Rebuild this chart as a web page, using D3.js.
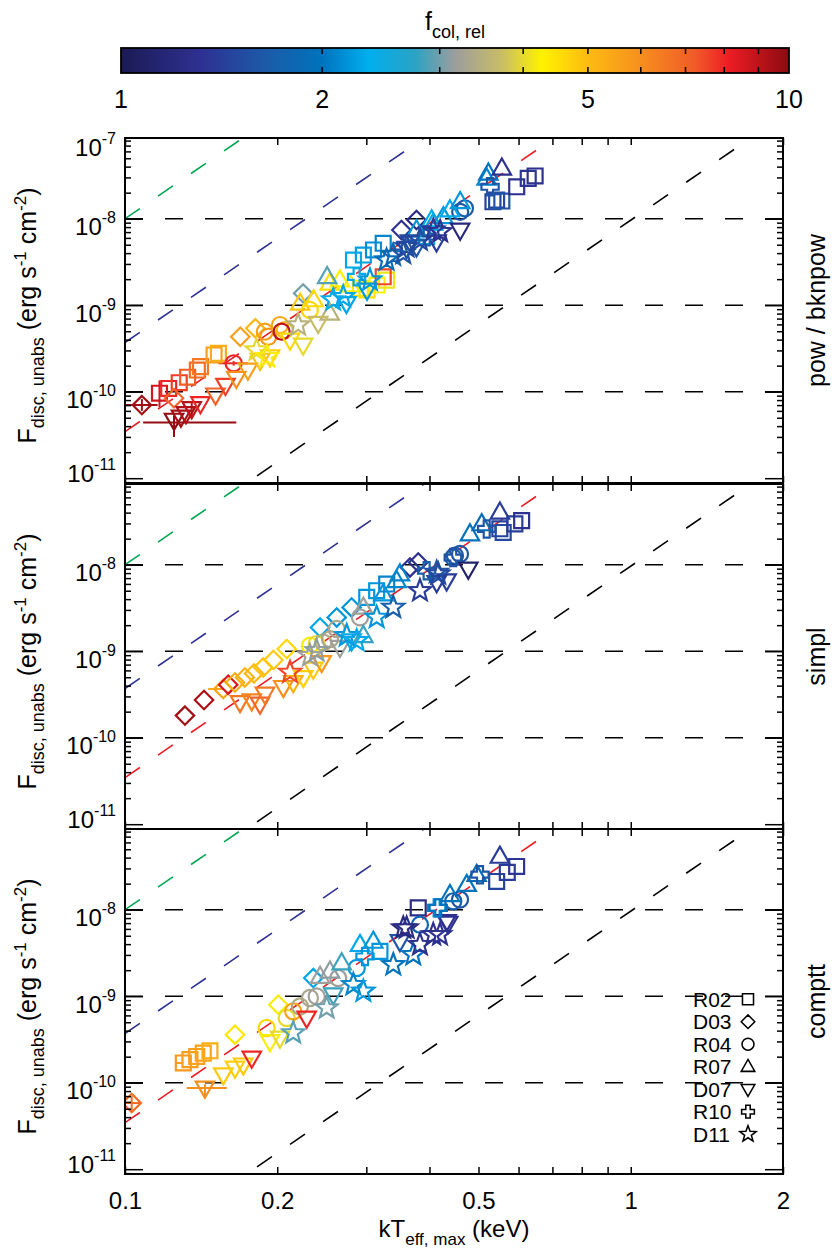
<!DOCTYPE html>
<html>
<head>
<meta charset="utf-8">
<script src="https://cdn.jsdelivr.net/npm/d3@7"></script>
<style>
  body { margin: 0; background: #fff; }
  text { font-family: "Liberation Sans", Arial, Helvetica, sans-serif; fill: #000; }
</style>
</head>
<body>
<script>
// ---- data: [kT_eff,max (keV), F_disc,unabs (erg/s/cm2), f_col,rel] ----
const sources = ["R02", "D03", "R04", "R07", "D07", "R10", "D11"];
const panelNames = ["pow / bknpow", "simpl", "comptt"];

const powR02 = [[0.117, 9.6e-11, 8.6], [0.122, 1.09e-10, 8.0], [0.128, 1.27e-10, 7.6], [0.133, 1.47e-10, 7.2], [0.139, 1.78e-10, 6.8], [0.141, 1.95e-10, 6.5], [0.150, 2.66e-10, 5.6], [0.153, 2.78e-10, 5.3],
  [0.292, 1.57e-9, 4.4], [0.301, 1.50e-9, 4.5], [0.315, 1.71e-9, 4.3], [0.329, 1.95e-9, 4.1], [0.324, 2.13e-9, 7.5],
  [0.283, 3.33e-9, 2.3], [0.296, 3.80e-9, 2.25], [0.310, 4.35e-9, 2.15], [0.324, 5.20e-9, 2.1], [0.395, 6.20e-9, 2.3],
  [0.534, 1.57e-8, 1.45], [0.543, 1.64e-8, 1.5], [0.556, 1.60e-8, 1.6], [0.595, 2.34e-8, 1.3], [0.627, 2.93e-8, 1.35], [0.647, 3.12e-8, 1.3]];
const powD03 = [[0.108, 7.0e-11, 9.5], [0.125, 8.4e-11, 7.0], [0.169, 4.32e-10, 5.6], [0.181, 5.41e-10, 5.1], [0.225, 1.37e-9, 3.0], [0.352, 7.4e-9, 1.3], [0.377, 9.66e-9, 1.25]];
const powR04 = [[0.164, 2.13e-10, 8.0], [0.189, 4.94e-10, 5.6], [0.192, 4.32e-10, 5.8], [0.2025, 5.9e-10, 5.4], [0.207, 5.16e-10, 5.0], [0.204, 4.94e-10, 9.0], [0.232, 8.8e-10, 4.6], [0.460, 1.20e-8, 1.6], [0.470, 1.32e-8, 1.7]];
const powR07 = [[0.222, 1.05e-9, 4.8], [0.236, 1.15e-9, 4.6], [0.254, 1.79e-9, 4.5], [0.266, 1.95e-9, 4.3], [0.279, 1.71e-9, 4.2], [0.251, 2.13e-9, 2.9], [0.254, 8.05e-10, 3.5],
  [0.377, 7.4e-9, 2.2], [0.404, 9.66e-9, 2.4], [0.407, 8.85e-9, 2.3], [0.426, 1.05e-8, 2.2], [0.439, 1.26e-8, 2.3], [0.460, 1.57e-8, 2.2],
  [0.519, 2.93e-8, 2.1], [0.523, 3.35e-8, 2.0], [0.556, 3.83e-8, 1.3]];
const powD07 = [[0.125, 4.7e-11, 9.8], [0.129, 5.1e-11, 9.5], [0.132, 5.6e-11, 9.3], [0.1355, 6.4e-11, 9.0], [0.141, 7.3e-11, 8.0], [0.151, 9.2e-11, 7.0], [0.158, 1.19e-10, 7.6], [0.166, 1.43e-10, 6.0],
  [0.175, 1.78e-10, 5.6], [0.185, 2.32e-10, 4.9], [0.1935, 2.54e-10, 4.7], [0.212, 3.96e-10, 4.6], [0.225, 3.47e-10, 4.0], [0.241, 6.18e-10, 3.7], [0.274, 1.05e-9, 2.3], [0.301, 1.5e-9, 2.2],
  [0.3605, 4.55e-9, 1.5], [0.366, 5.42e-9, 1.5], [0.377, 4.74e-9, 1.6], [0.413, 5.42e-9, 1.4], [0.460, 7.4e-9, 1.2]];
const powR10 = [[0.287, 2.13e-9, 2.3], [0.395, 6.2e-9, 1.7], [0.527, 2.34e-8, 1.6]];
const powD11 = [[0.182, 3.03e-10, 4.0], [0.191, 2.54e-10, 4.2], [0.220, 5.9e-10, 3.5], [0.258, 1.15e-9, 2.4], [0.270, 1.25e-9, 2.3], [0.305, 1.95e-9, 2.2], [0.329, 3.33e-9, 1.9],
  [0.339, 3.8e-9, 1.8], [0.355, 3.98e-9, 1.6], [0.3605, 4.74e-9, 1.5], [0.383, 5.67e-9, 1.5], [0.407, 7.4e-9, 1.4], [0.420, 7.08e-9, 1.3]];
// error bars: [T, Tlo, Thi, F, Flo, Fhi, fcol]
const powErr = [[0.108, 0.1, 0.116, 7.0e-11, 6.0e-11, 8.2e-11, 9.5], [0.125, 0.1086, 0.166, 4.4e-11, 3.0e-11, 5.3e-11, 9.8],
  [0.117, 0.117, 0.117, 9.6e-11, 6.6e-11, 1.35e-10, 8.6], [0.164, 0.153, 0.175, 2.13e-10, 2.0e-10, 2.26e-10, 8.0], [0.1355, 0.1355, 0.1355, 6.4e-11, 5.0e-11, 7.6e-11, 9.0]];

const simplR02 = [[0.3006, 4.19e-9, 2.2], [0.3145, 5.0e-9, 2.2], [0.3292, 5.98e-9, 2.1], [0.551, 2.6e-8, 1.45], [0.5595, 2.36e-8, 1.5], [0.590, 2.96e-8, 1.4], [0.6085, 3.23e-8, 1.3]];
const simplD03 = [[0.1314, 1.80e-10, 9.5], [0.1433, 2.73e-10, 9.3], [0.1564, 3.66e-10, 5.5], [0.160, 4.1e-10, 8.5], [0.165, 4.35e-10, 5.3], [0.1726, 4.98e-10, 5.2], [0.1799, 5.54e-10, 5.0],
  [0.1876, 6.5e-10, 4.9], [0.1965, 7.91e-10, 4.8], [0.2088, 1.06e-9, 4.6], [0.243, 1.88e-9, 2.3], [0.2622, 2.46e-9, 2.2], [0.2806, 3.21e-9, 2.2], [0.366, 9.31e-9, 1.3], [0.380, 1.06e-8, 1.3]];
const simplR04 = [[0.2321, 1.16e-9, 4.2], [0.2393, 1.21e-9, 4.0], [0.2466, 1.26e-9, 3.4], [0.2543, 1.38e-9, 3.3], [0.2622, 1.81e-9, 3.3], [0.2915, 2.46e-9, 3.2], [0.4457, 1.21e-8, 1.7], [0.4492, 1.27e-8, 1.6], [0.4596, 1.33e-8, 1.6]];
const simplR07 = [[0.296, 1.51e-9, 2.8], [0.296, 3.21e-9, 3.2], [0.3241, 4.58e-9, 2.2], [0.3444, 6.53e-9, 2.1], [0.3496, 7.8e-9, 2.1], [0.4809, 2.26e-8, 2.0], [0.5073, 2.96e-8, 1.9], [0.5511, 4.03e-8, 1.4]];
const simplD07 = [[0.1688, 2.56e-10, 6.5], [0.1781, 2.68e-10, 6.2], [0.1849, 2.45e-10, 7.0], [0.1891, 3.2e-10, 6.5], [0.2056, 3.82e-10, 6.0], [0.2151, 4.35e-10, 5.2], [0.2252, 4.98e-10, 4.7],
  [0.2357, 6.22e-10, 4.8], [0.2448, 7.43e-10, 5.8], [0.2661, 1.11e-9, 3.2], [0.2806, 1.32e-9, 2.4], [0.4133, 6.24e-9, 1.4], [0.4325, 6.53e-9, 1.4], [0.4773, 8.92e-9, 1.1]];
const simplR10 = [[0.3948, 8.52e-9, 1.7], [0.4457, 1.21e-8, 1.6], [0.519, 2.59e-8, 1.6]];
const simplD11 = [[0.212, 5.69e-10, 7.5], [0.2321, 8.87e-10, 3.2], [0.2393, 1.01e-9, 3.1], [0.2744, 1.51e-9, 2.2], [0.2872, 1.32e-9, 2.3], [0.3145, 2.46e-9, 2.2], [0.3392, 3.21e-9, 1.7],
  [0.383, 5.0e-9, 1.4], [0.4133, 8.15e-9, 1.6], [0.4163, 7.8e-9, 1.5]];
const simplErr = [[0.1564, 0.146, 0.1564, 3.66e-10, 3.66e-10, 3.66e-10, 5.5]];

const compttR02 = [[0.1304, 1.69e-10, 5.8], [0.1344, 1.85e-10, 5.7], [0.1386, 2.01e-10, 5.6], [0.1428, 2.2e-10, 5.5], [0.1472, 2.34e-10, 5.3], [0.3192, 3.3e-9, 2.2], [0.380, 1.05e-8, 1.25],
  [0.5431, 2.12e-8, 1.45], [0.570, 2.7e-8, 1.4], [0.5948, 3.16e-8, 1.35]];
const compttD03 = [[0.1031, 5.82e-11, 6.8], [0.165, 3.59e-10, 4.4], [0.201, 7.98e-10, 4.2], [0.2357, 1.62e-9, 2.3]];
const compttR04 = [[0.1906, 4.29e-10, 4.6], [0.2088, 5.6e-10, 4.0], [0.2151, 6.67e-10, 5.5], [0.2218, 7.62e-10, 3.4], [0.2321, 9.53e-10, 3.3], [0.2393, 9.95e-10, 3.2], [0.264, 1.62e-9, 3.2],
  [0.2872, 2.12e-9, 2.2], [0.383, 6.71e-9, 1.8], [0.4457, 1.25e-8, 1.7], [0.4596, 1.31e-8, 1.6]];
const compttR07 = [[0.2431, 1.69e-9, 3.2], [0.2543, 1.94e-9, 3.1], [0.2682, 2.42e-9, 2.8], [0.2915, 3.94e-9, 2.3], [0.3097, 4.3e-9, 2.2], [0.4391, 1.49e-8, 2.0], [0.4739, 1.95e-8, 2.0],
  [0.4959, 2.54e-8, 1.9], [0.5511, 4.13e-8, 1.4]];
const compttD07 = [[0.1439, 8.69e-11, 6.0], [0.1564, 1.24e-10, 4.8], [0.165, 1.48e-10, 4.7], [0.1713, 1.61e-10, 4.8], [0.1781, 1.93e-10, 8.0], [0.1935, 3.0e-10, 4.2], [0.2025, 3.29e-10, 4.0],
  [0.2287, 5.6e-10, 8.0], [0.2581, 1.04e-9, 2.8], [0.3496, 4.3e-9, 1.6], [0.4325, 7.33e-9, 1.3], [0.4357, 7.01e-9, 1.3]];
const compttR10 = [[0.2982, 2.88e-9, 2.2], [0.4133, 1.05e-8, 2.1], [0.4163, 1.05e-8, 2.0], [0.5034, 2.54e-8, 1.6]];
const compttD11 = [[0.2151, 3.76e-10, 2.9], [0.2505, 7.31e-10, 3.0], [0.2828, 1.36e-9, 2.1], [0.296, 1.14e-9, 2.2], [0.3392, 2.31e-9, 2.0], [0.355, 6.14e-9, 1.2], [0.3605, 6.14e-9, 1.25],
  [0.3715, 3.02e-9, 2.0], [0.383, 3.94e-9, 1.3], [0.4069, 5.14e-9, 1.3], [0.4196, 5.14e-9, 1.3]];
const compttErr = [[0.1031, 0.1, 0.1075, 5.82e-11, 4.6e-11, 7.0e-11, 6.8], [0.1304, 0.126, 0.1304, 1.69e-10, 1.69e-10, 1.69e-10, 5.8], [0.1439, 0.1325, 0.159, 8.69e-11, 7.0e-11, 9.6e-11, 6.0]];

// reference lines (F ~ T^4), two points each
const refLines = [
  { color: "#00a651", T: [0.1, 0.2], F: [1e-8, 1.6e-7] },
  { color: "#2e3192", T: [0.1, 0.5], F: [3.7e-10, 2.31e-7] },
  { color: "#ed1c24", T: [0.1, 1.0], F: [3.45e-11, 3.45e-7] },
  { color: "#000000", T: [0.1, 2.0], F: [9.6e-13, 1.54e-7] }
];
const hLines = [1e-8, 1e-9, 1e-10];

const xMajor = [0.1, 0.2, 0.5, 1, 2];
const xMinor = [0.3, 0.4, 0.6, 0.7, 0.8, 0.9];
const yMajor = [1e-11, 1e-10, 1e-9, 1e-8];
const cbLabels = [1, 2, 5, 10];
const cbMinor = [2, 3, 4, 5, 6, 7, 8, 9];

const panels = [
  { name: panelNames[0], sets: [powR02, powD03, powR04, powR07, powD07, powR10, powD11], err: powErr },
  { name: panelNames[1], sets: [simplR02, simplD03, simplR04, simplR07, simplD07, simplR10, simplD11], err: simplErr },
  { name: panelNames[2], sets: [compttR02, compttD03, compttR04, compttR07, compttD07, compttR10, compttD11], err: compttErr }
];

// ---- layout ----
const W = 833, H = 1251;
const x0 = 125, x1 = 783;
const panelTop = [138, 484, 829];
const panelH = 345;
const yDomain = [8.8e-12, 8.57e-8];

const cmapPos = [0, 0.12, 0.22, 0.30, 0.37, 0.44, 0.50, 0.57, 0.63, 0.70, 0.77, 0.86, 0.91, 1];
const cmapCol = ["#1b1a55", "#2e3192", "#1b5ca8", "#0072bc", "#00aeef", "#2ba3c4", "#9d9d9d", "#c9bd66",
  "#fff200", "#fdba12", "#f7941d", "#f15a29", "#ed1c24", "#8b0b10"];
const cT = d3.scaleLog().domain([1, 10]).range([0, 1]).clamp(true);
const cmap = d3.scaleLinear().domain(cmapPos).range(cmapCol).clamp(true);
const colour = (f) => cmap(cT(f));

const x = d3.scaleLog().domain([0.1, 2]).range([x0, x1]);

const svg = d3.select("body").append("svg")
  .attr("width", W)
  .attr("height", H);
const defs = svg.append("defs");

// symbols
function starPath(R, r) {
  const pts = d3.range(10).map((i) => {
    const a = -Math.PI / 2 + i * Math.PI / 5;
    const rr = i % 2 ? r : R;
    return [rr * Math.cos(a), rr * Math.sin(a)];
  });
  return "M" + pts.map((p) => p[0].toFixed(2) + "," + p[1].toFixed(2)).join("L") + "Z";
}
const symbolPaths = {
  R02: "M-6.5,-6.5H6.5V6.5H-6.5Z",
  D03: "M0,-8L8,0L0,8L-8,0Z",
  R04: "M7,0A7,7 0 1,1 -7,0A7,7 0 1,1 7,0Z",
  R07: "M0,-8.5L8,5.5H-8Z",
  D07: "M0,8.5L8,-5.5H-8Z",
  R10: "M-2.6,-7.5H2.6V-2.6H7.5V2.6H2.6V7.5H-2.6V2.6H-7.5V-2.6H-2.6Z",
  D11: starPath(10, 4.2)
};

// ---- colour bar ----
const cb = d3.scaleLog().domain([1, 10]).range([121, 789]);
const grad = defs.append("linearGradient").attr("id", "cbar");
grad.selectAll("stop").data(cmapPos).join("stop")
  .attr("offset", (d) => d)
  .attr("stop-color", (d, i) => cmapCol[i]);
svg.append("rect")
  .attr("x", 121).attr("y", 48).attr("width", 668).attr("height", 25)
  .attr("fill", "url(#cbar)");
const cbg = svg.append("g");
cbg.selectAll("line.t").data(cbMinor).join("line")
  .attr("x1", (d) => cb(d)).attr("x2", (d) => cb(d))
  .attr("y1", 48).attr("y2", 54)
  .attr("stroke", "#000").attr("stroke-width", 1.5);
cbg.selectAll("line.b").data(cbMinor).join("line")
  .attr("x1", (d) => cb(d)).attr("x2", (d) => cb(d))
  .attr("y1", 73).attr("y2", 67)
  .attr("stroke", "#000").attr("stroke-width", 1.5);
svg.append("rect")
  .attr("x", 121).attr("y", 48).attr("width", 668).attr("height", 25)
  .attr("fill", "none").attr("stroke", "#000").attr("stroke-width", 1.8);
svg.append("g").selectAll("text").data(cbLabels).join("text")
  .attr("x", (d) => cb(d)).attr("y", 108)
  .attr("text-anchor", "middle").attr("font-size", 25)
  .text((d) => d);
const cbt = svg.append("text").attr("x", 455).attr("y", 30).attr("text-anchor", "middle").attr("font-size", 25);
cbt.append("tspan").text("f");
cbt.append("tspan").attr("dy", 8).attr("font-size", 18).text("col, rel");

// ---- panels ----
panels.forEach((p, i) => {
  const top = panelTop[i];
  const bot = top + panelH;
  const y = d3.scaleLog().domain(yDomain).range([bot, top]);
  const g = svg.append("g");

  defs.append("clipPath").attr("id", "clip" + i)
    .append("rect").attr("x", x0).attr("y", top).attr("width", x1 - x0).attr("height", panelH);
  const plot = g.append("g").attr("clip-path", `url(#clip${i})`);

  // horizontal dashed lines
  plot.selectAll("line.h").data(hLines).join("line")
    .attr("x1", x0).attr("x2", x1)
    .attr("y1", (d) => y(d)).attr("y2", (d) => y(d))
    .attr("stroke", "#000").attr("stroke-width", 1.6)
    .attr("stroke-dasharray", "18,22");

  // T^4 lines
  const line = d3.line().x((d) => x(d[0])).y((d) => y(d[1]));
  plot.selectAll("path.ref").data(refLines).join("path")
    .attr("d", (d) => line(d.T.map((t, k) => [t, d.F[k]])))
    .attr("fill", "none")
    .attr("stroke", (d) => d.color).attr("stroke-width", 1.6)
    .attr("stroke-dasharray", "18,22");

  // error bars
  const eg = plot.append("g").attr("stroke-width", 2);
  p.err.forEach((e) => {
    eg.append("line")
      .attr("x1", x(e[1])).attr("x2", x(e[2])).attr("y1", y(e[3])).attr("y2", y(e[3]))
      .attr("stroke", colour(e[6]));
    eg.append("line")
      .attr("x1", x(e[0])).attr("x2", x(e[0])).attr("y1", y(e[4])).attr("y2", y(e[5]))
      .attr("stroke", colour(e[6]));
  });

  // markers
  p.sets.forEach((set, k) => {
    plot.append("g").selectAll("path").data(set).join("path")
      .attr("d", symbolPaths[sources[k]])
      .attr("transform", (d) => `translate(${x(d[0])},${y(d[1])}) scale(1.15)`)
      .attr("fill", "none")
      .attr("stroke", (d) => colour(d[2]))
      .attr("stroke-width", 1.9)
      .attr("stroke-linejoin", "miter");
  });

  // axes (inward ticks)
  const yMinor = [];
  [-12, -11, -10, -9, -8].forEach((e) => {
    for (let m = 2; m <= 9; m++) {
      const v = m * Math.pow(10, e);
      if (v > yDomain[0] && v < yDomain[1]) yMinor.push(v);
    }
  });
  const styleAxis = (sel) => {
    sel.select(".domain").remove();
    sel.selectAll("line").attr("stroke", "#000").attr("stroke-width", 1.5);
  };
  g.append("g").attr("transform", `translate(${x0},0)`)
    .call(d3.axisLeft(y).tickValues(yMinor).tickSize(-6).tickFormat(""))
    .call(styleAxis);
  g.append("g").attr("transform", `translate(${x0},0)`)
    .call(d3.axisLeft(y).tickValues(yMajor).tickSize(-18).tickFormat(""))
    .call(styleAxis);
  g.append("g").attr("transform", `translate(${x1},0)`)
    .call(d3.axisRight(y).tickValues(yMinor).tickSize(-6).tickFormat(""))
    .call(styleAxis);
  g.append("g").attr("transform", `translate(${x1},0)`)
    .call(d3.axisRight(y).tickValues(yMajor).tickSize(-18).tickFormat(""))
    .call(styleAxis);
  g.append("g").attr("transform", `translate(0,${top})`)
    .call(d3.axisTop(x).tickValues(xMajor.concat(xMinor)).tickSize(-7).tickFormat(""))
    .call(styleAxis);
  const xb = g.append("g").attr("transform", `translate(0,${bot})`)
    .call(d3.axisBottom(x).tickValues(xMajor.concat(xMinor)).tickSize(-7).tickPadding(18)
      .tickFormat((d) => (i === 2 && xMajor.includes(d)) ? d3.format("")(d) : ""))
    .call(styleAxis);
  xb.selectAll("text").attr("font-size", 24).attr("font-family", null).attr("fill", "#000");

  // frame
  g.append("rect")
    .attr("x", x0).attr("y", top).attr("width", x1 - x0).attr("height", panelH)
    .attr("fill", "none").attr("stroke", "#000").attr("stroke-width", 2);

  // y tick labels 10^n
  const labVals = i === 0 ? yMajor.concat([1e-7]) : yMajor;
  labVals.forEach((v) => {
    const c = Math.min(Math.max(y(v) + 8, top + 9), bot - 10);
    const t = g.append("text").attr("x", 116).attr("y", c + 8.6)
      .attr("text-anchor", "end").attr("font-size", 24);
    t.append("tspan").text("10");
    t.append("tspan").attr("dy", -12).attr("font-size", 16).text(Math.round(Math.log10(v)));
  });

  // y title
  const yt = g.append("text")
    .attr("transform", `translate(36,${top + panelH / 2 + 5}) rotate(-90)`)
    .attr("text-anchor", "middle").attr("font-size", 25);
  yt.append("tspan").text("F");
  yt.append("tspan").attr("dy", 8).attr("font-size", 18).text("disc, unabs");
  yt.append("tspan").attr("dy", -8).text(" (erg s");
  yt.append("tspan").attr("dy", -10).attr("font-size", 17).text("-1");
  yt.append("tspan").attr("dy", 10).text(" cm");
  yt.append("tspan").attr("dy", -10).attr("font-size", 17).text("-2");
  yt.append("tspan").attr("dy", 10).text(")");

  // panel name on the right
  g.append("text")
    .attr("transform", `translate(825,${top + panelH / 2}) rotate(-90)`)
    .attr("text-anchor", "middle").attr("font-size", 25)
    .text(p.name);
});

// ---- x title ----
const xt = svg.append("text").attr("x", 454).attr("y", 1237).attr("text-anchor", "middle").attr("font-size", 24);
xt.append("tspan").text("kT");
xt.append("tspan").attr("dy", 8).attr("font-size", 17).text("eff, max");
xt.append("tspan").attr("dy", -8).text(" (keV)");

// ---- legend (bottom panel) ----
const leg = svg.append("g").selectAll("g").data(sources).join("g")
  .attr("transform", (d, k) => `translate(693,${1006.7 + k * 22.5})`);
leg.append("text").attr("font-size", 21).text((d) => d);
leg.append("path")
  .attr("d", (d) => symbolPaths[d])
  .attr("transform", "translate(55,-7.5) scale(0.85)")
  .attr("fill", "none").attr("stroke", "#000").attr("stroke-width", 1.8);
</script>
</body>
</html>
